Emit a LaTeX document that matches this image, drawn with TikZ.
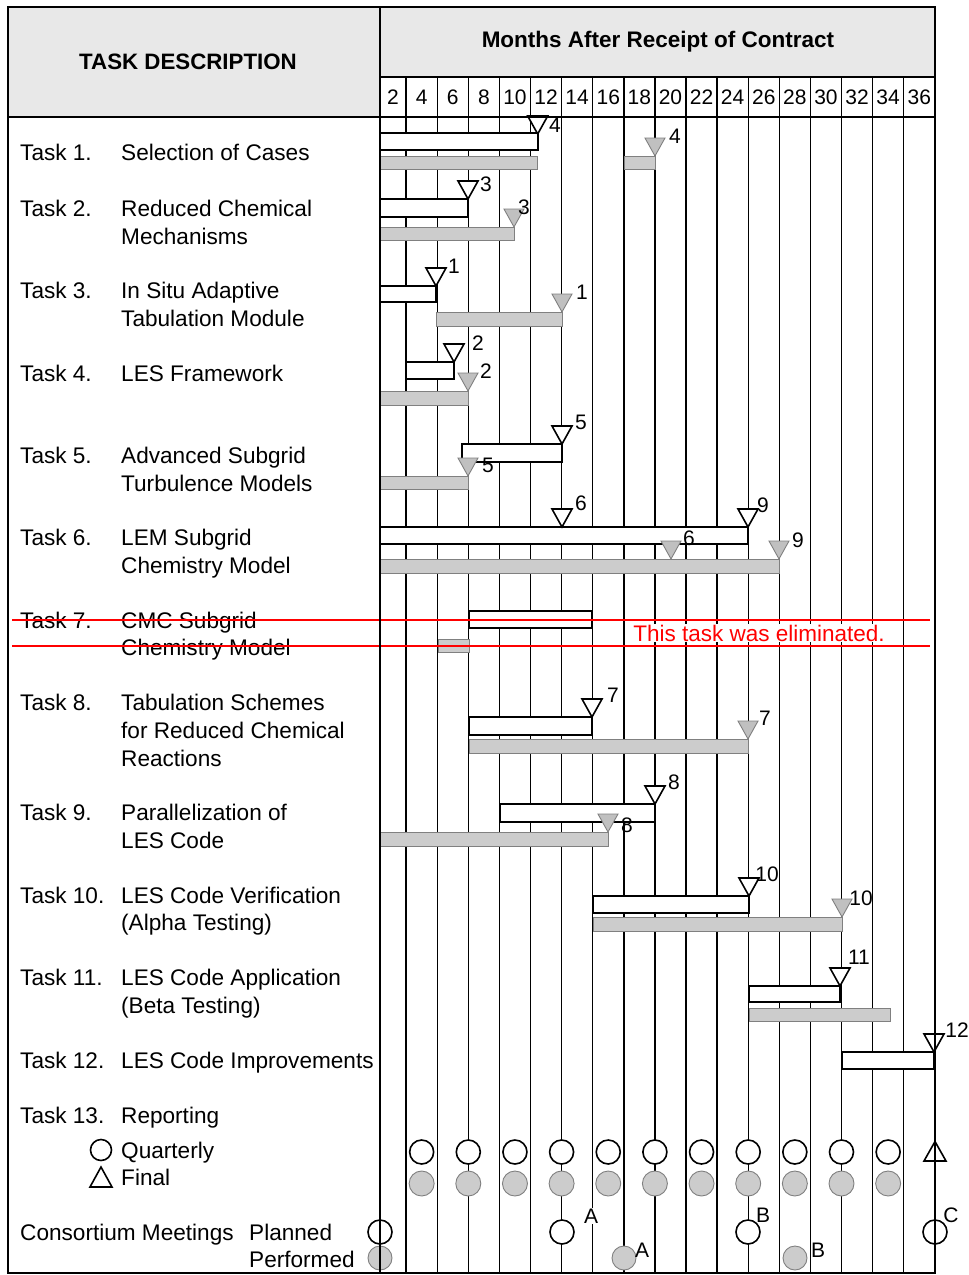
\documentclass[tikz,border=0pt]{standalone}
\usepackage{fontspec}
\setmainfont{Liberation Sans}
\definecolor{hdr}{RGB}{232,232,232}
\definecolor{perfgray}{RGB}{204,204,204}
\definecolor{perfedge}{RGB}{128,128,128}
\definecolor{msgray}{RGB}{192,192,192}
\newcommand{\msplan}[2]{\draw[plan] ({#1-10},{#2-18}) -- ({#1+10},{#2-18}) -- (#1,#2) -- cycle;}
\newcommand{\msperf}[2]{\draw[perfms] ({#1-10},{#2-18}) -- ({#1+10},{#2-18}) -- (#1,#2) -- cycle;}
\begin{document}
\begin{tikzpicture}[x=1pt,y=-1pt,
  txt/.style={font=\fontsize{22.6}{26}\selectfont, anchor=base west, inner sep=0pt},
  hnum/.style={font=\fontsize{21}{24}\selectfont, inner sep=0pt},
  lab/.style={font=\fontsize{21}{24}\selectfont, inner sep=0pt},
  plan/.style={draw=black, fill=white, line width=1.6pt, line join=miter},
  perf/.style={draw=perfedge, fill=perfgray, line width=0.9pt},
  perfms/.style={draw=perfedge, fill=msgray, line width=0.9pt, line join=miter},
  gridl/.style={line width=1.4pt},
  frame/.style={line width=1.8pt},
  strike/.style={draw=red, line width=1.3pt}]
\useasboundingbox (0,0) rectangle (969,1275);
% header backgrounds
\fill[hdr] (8,7) rectangle (380,117);
\fill[hdr] (380,7) rectangle (935,77);
% grid lines
\foreach \k in {1,...,17} \draw[gridl] ({375+31.1*\k},77) -- ({375+31.1*\k},1273);
% header texts
\node[font=\bfseries\fontsize{22.3}{26}\selectfont, inner sep=0pt] (td) at (188,62) {TASK DESCRIPTION};
\node[font=\bfseries\fontsize{22.5}{26}\selectfont, inner sep=0pt] (mo) at (658,42) {Months After Receipt of Contract};
\node[hnum] (h1) at (393,97) {2};
\foreach \k in {2,...,18} \node[hnum] (h\k) at ({375+31.1*\k-15.55},97) {\the\numexpr2*\k\relax};
% ---- bars ----
% Task 1
\draw[plan] (380,133) rectangle (537.7,150);
\draw[perf] (380,156) rectangle (537.7,169);
\draw[perf] (624,156) rectangle (655,169);
\msplan{537.7}{134}
\msperf{655}{156}
\node[lab] (m1a) at (555,125) {4};
\node[lab] (m1b) at (675,136) {4};
% Task 2
\draw[plan] (380,199) rectangle (468,217);
\draw[perf] (380,227) rectangle (514,240);
\msplan{468}{199}
\msperf{514}{227}
\node[lab] (m2a) at (486,184) {3};
\node[lab] (m2b) at (524,207) {3};
% Task 3
\draw[plan] (380,286) rectangle (436,302);
\draw[perf] (436.7,312) rectangle (562,326);
\msplan{436}{286}
\msperf{562}{312}
\node[lab] (m3a) at (454,266) {1};
\node[lab] (m3b) at (582,292) {1};
% Task 4
\draw[plan] (406,362) rectangle (454,379);
\draw[perf] (380,391) rectangle (468,405);
\msplan{454}{362}
\msperf{468}{391}
\node[lab] (m4a) at (478,343) {2};
\node[lab] (m4b) at (486,371) {2};
% Task 5
\draw[plan] (462,444) rectangle (562,462);
\draw[perf] (380,476) rectangle (468,489);
\msplan{562}{444}
\msperf{468}{476}
\node[lab] (m5a) at (581,422) {5};
\node[lab] (m5b) at (488,465) {5};
% Task 6
\draw[plan] (380,527) rectangle (748,544);
\draw[perf] (380,559) rectangle (779,573);
\msplan{562}{527}
\msplan{748}{527}
\msperf{671}{559}
\msperf{779}{559}
\node[lab] (m6a) at (581,503) {6};
\node[lab] (m6b) at (763,505) {9};
\node[lab] (m6c) at (689,538) {6};
\node[lab] (m6d) at (798,540) {9};
% Task 7
\draw[plan] (469,611) rectangle (592,628);
\draw[perf] (438,639) rectangle (469,652);
% Task 8
\draw[plan] (469,717) rectangle (592,735);
\draw[perf] (469,739) rectangle (748,753);
\msplan{592}{717}
\msperf{748}{739}
\node[lab] (m8a) at (613,695) {7};
\node[lab] (m8b) at (765,718) {7};
% Task 9
\draw[plan] (500,804) rectangle (655,822);
\draw[perf] (380,832) rectangle (608,846);
\msplan{655}{804}
\msperf{608}{832}
\node[lab] (m9a) at (674,782) {8};
\node[lab] (m9b) at (627,825) {8};
% Task 10
\draw[plan] (593,896) rectangle (749,913);
\draw[perf] (593,917) rectangle (842,931);
\msplan{749}{896}
\msperf{842}{917}
\node[lab] (m10a) at (767,874) {10};
\node[lab] (m10b) at (861,898) {10};
% Task 11
\draw[plan] (749,986) rectangle (840,1002);
\draw[perf] (749,1008) rectangle (890,1021);
\msplan{840}{986}
\node[lab] (m11a) at (859,957) {11};
% Task 12
\draw[plan] (842,1052) rectangle (934,1069);
\msplan{934}{1052}
\node[lab] (m12a) at (957,1030) {12};
% ---- reporting ----
\foreach \m in {3,6,...,33} {
  \draw[plan] ({375+15.55*\m},1152) circle[radius=12pt];
  \draw[perf] ({375+15.55*\m},1183.5) circle[radius=12.5pt];
}
\draw[plan] (924,1161) -- (946,1161) -- (935,1141.5) -- cycle;
% consortium meetings
\foreach \x in {380,562,748,935} \draw[plan] (\x,1232) circle[radius=12pt];
\foreach \x in {380,624,795} \draw[perf] (\x,1258) circle[radius=12pt];
\node[lab, fill=white, inner sep=1pt] (pa) at (591,1216) {A};
\node[lab] (pb) at (763,1215) {B};
\node[lab] (pc) at (951,1215) {C};
\node[lab] (qa) at (642,1250) {A};
\node[lab] (qb) at (818,1250) {B};
% ---- left column texts ----
\node[txt] (t1) at (20,160) {Task 1.};   \node[txt] (d1) at (121,160) {Selection of Cases};
\node[txt] (t2) at (20,216) {Task 2.};   \node[txt] (d2a) at (121,216) {Reduced Chemical};
\node[txt] (d2b) at (121,244) {Mechanisms};
\node[txt] (t3) at (20,298) {Task 3.};   \node[txt] (d3a) at (121,298) {In Situ Adaptive};
\node[txt] (d3b) at (121,326) {Tabulation Module};
\node[txt] (t4) at (20,381) {Task 4.};   \node[txt] (d4) at (121,381) {LES Framework};
\node[txt] (t5) at (20,463) {Task 5.};   \node[txt] (d5a) at (121,463) {Advanced Subgrid};
\node[txt] (d5b) at (121,491) {Turbulence Models};
\node[txt] (t6) at (20,545) {Task 6.};   \node[txt] (d6a) at (121,545) {LEM Subgrid};
\node[txt] (d6b) at (121,573) {Chemistry Model};
\node[txt] (t7) at (20,628) {Task 7.};   \node[txt] (d7a) at (121,628) {CMC Subgrid};
\node[txt] (d7b) at (121,655) {Chemistry Model};
\node[txt] (t8) at (20,710) {Task 8.};   \node[txt] (d8a) at (121,710) {Tabulation Schemes};
\node[txt] (d8b) at (121,738) {for Reduced Chemical};
\node[txt] (d8c) at (121,766) {Reactions};
\node[txt] (t9) at (20,820) {Task 9.};   \node[txt] (d9a) at (121,820) {Parallelization of};
\node[txt] (d9b) at (121,848) {LES Code};
\node[txt] (t10) at (20,903) {Task 10.}; \node[txt] (d10a) at (121,903) {LES Code Verification};
\node[txt] (d10b) at (121,930) {(Alpha Testing)};
\node[txt] (t11) at (20,985) {Task 11.}; \node[txt] (d11a) at (121,985) {LES Code Application};
\node[txt] (d11b) at (121,1013) {(Beta Testing)};
\node[txt] (t12) at (20,1068) {Task 12.}; \node[txt] (d12) at (121,1068) {LES Code Improvements};
\node[txt] (t13) at (20,1123) {Task 13.}; \node[txt] (d13) at (121,1123) {Reporting};
\draw[plan] (101,1150) circle[radius=10.5pt];
\node[txt] (lq) at (121,1158) {Quarterly};
\draw[plan] (90,1187) -- (112,1187) -- (101,1167) -- cycle;
\node[txt] (lf) at (121,1185) {Final};
\node[txt] (cm) at (20,1240) {Consortium Meetings};
\node[txt] (lp) at (249,1240) {Planned};
\node[txt] (lpf) at (249,1267) {Performed};
% ---- eliminated task ----
\node[font=\fontsize{22.5}{26}\selectfont, text=red, fill=white, inner xsep=4pt, inner ysep=1pt] (elim) at (759,633) {This task was eliminated.};
\draw[strike] (12,620) -- (930,620);
\draw[strike] (12,646) -- (930,646);
% ---- frame ----
\draw[frame] (8,7) rectangle (935,1273);
\draw[frame] (380,7) -- (380,1273);
\draw[frame] (8,117) -- (935,117);
\draw[gridl] (380,77) -- (935,77);
\end{tikzpicture}
\end{document}
